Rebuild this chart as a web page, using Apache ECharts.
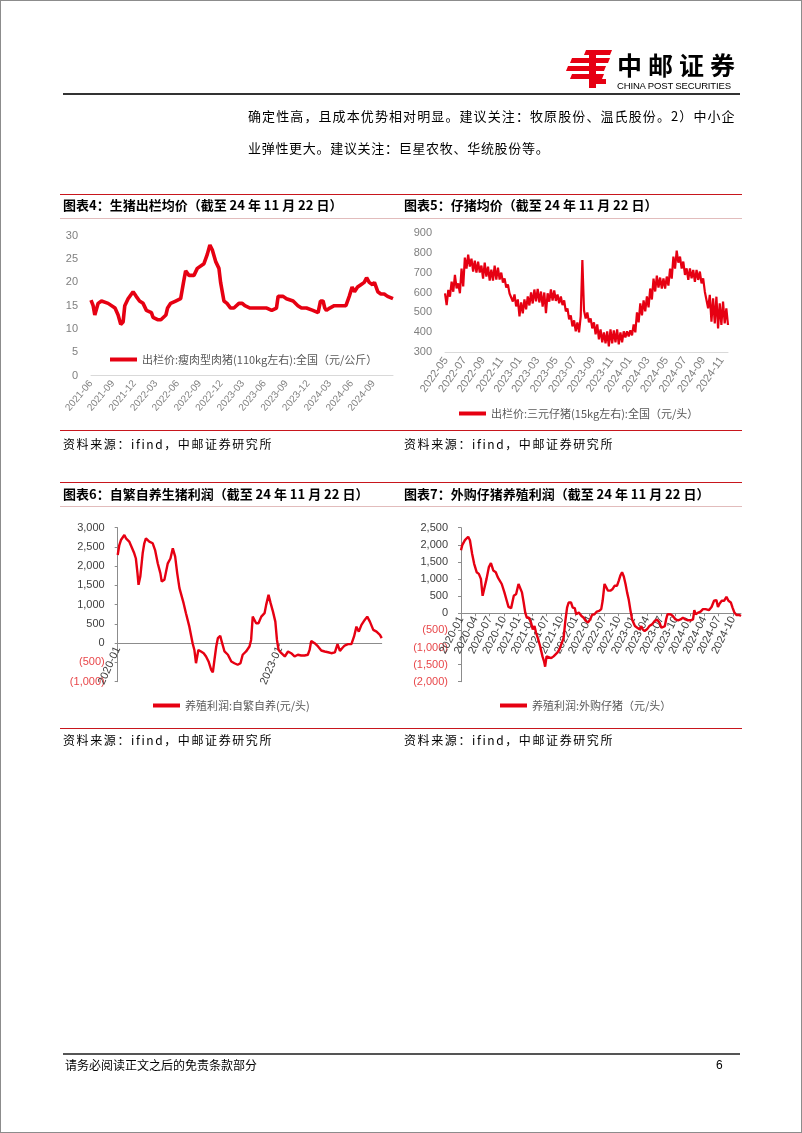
<!DOCTYPE html>
<html><head><meta charset="utf-8">
<script src="https://cdn.jsdelivr.net/npm/echarts@6/dist/echarts.min.js"></script>
<style>
html,body{margin:0;padding:0;background:#fff;}
#page{position:relative;width:802px;height:1133px;overflow:hidden;font-family:"Noto Sans CJK SC",sans-serif;background:#fff;}
#chart{position:absolute;left:0;top:0;width:802px;height:1133px;}
.frame{position:absolute;left:0;top:0;width:802px;height:1133px;box-sizing:border-box;border:1px solid #8c8c8c;pointer-events:none;}
.t{position:absolute;white-space:nowrap;color:#000;line-height:1;}
.ln{position:absolute;height:0;}
.ttl{font-weight:bold;font-size:13px;}
.src{font-size:12px;letter-spacing:1.6px;color:#000;}
</style></head><body>
<div id="page">
<div id="chart"></div>

<svg style="position:absolute;left:566px;top:49px" width="48" height="40" viewBox="0 0 48 40">
  <g fill="#e60012">
    <polygon points="20,1 46,1 44,6 18,6"/>
    <polygon points="6,9 44,9 42,14 4,14"/>
    <polygon points="2,17 40,17 38,22 0,22"/>
    <polygon points="6,25 38,25 36,30 4,30"/>
    <polygon points="23,1 30,1 30,39 23,39"/>
    <polygon points="30,30 40,30 40,35 30,35"/>
  </g>
</svg>
<div class="t" style="left:617px;top:52px;font-size:25px;font-weight:bold;letter-spacing:6px;">中邮证券</div>
<div class="t" style="left:617px;top:81px;font-size:9.5px;font-family:'Liberation Sans',sans-serif;letter-spacing:-0.15px;">CHINA POST SECURITIES</div>
<div class="ln" style="left:63px;top:93px;width:677px;border-top:2px solid #333;"></div>

<div class="t" style="left:248px;top:109px;font-size:13px;letter-spacing:1.1px;">确定性高，且成本优势相对明显。建议关注：牧原股份、温氏股份。2）中小企</div>
<div class="t" style="left:248px;top:141px;font-size:13px;letter-spacing:0.7px;">业弹性更大。建议关注：巨星农牧、华统股份等。</div>

<div class="ln" style="left:60px;top:194px;width:682px;border-top:1.5px solid #c8161d;"></div>
<div class="t ttl" style="left:63px;top:198px;">图表4：生猪出栏均价（截至 24 年 11 月 22 日）</div>
<div class="t ttl" style="left:404px;top:198px;">图表5：仔猪均价（截至 24 年 11 月 22 日）</div>
<div class="ln" style="left:60px;top:217.5px;width:682px;border-top:1px solid #e2bcbc;"></div>
<div class="ln" style="left:60px;top:429.5px;width:682px;border-top:1.5px solid #c8161d;"></div>
<div class="t src" style="left:63px;top:438px;">资料来源：ifind，中邮证券研究所</div>
<div class="t src" style="left:404px;top:438px;">资料来源：ifind，中邮证券研究所</div>

<div class="ln" style="left:60px;top:482px;width:682px;border-top:1.5px solid #c8161d;"></div>
<div class="t ttl" style="left:63px;top:486.5px;">图表6：自繁自养生猪利润（截至 24 年 11 月 22 日）</div>
<div class="t ttl" style="left:404px;top:486.5px;">图表7：外购仔猪养殖利润（截至 24 年 11 月 22 日）</div>
<div class="ln" style="left:60px;top:506px;width:682px;border-top:1px solid #e2bcbc;"></div>
<div class="ln" style="left:60px;top:727.5px;width:682px;border-top:1.5px solid #c8161d;"></div>
<div class="t src" style="left:63px;top:734px;">资料来源：ifind，中邮证券研究所</div>
<div class="t src" style="left:404px;top:734px;">资料来源：ifind，中邮证券研究所</div>

<div class="ln" style="left:63px;top:1053px;width:677px;border-top:2px solid #555;"></div>
<div class="t" style="left:65px;top:1059px;font-size:12px;">请务必阅读正文之后的免责条款部分</div>
<div class="t" style="left:716px;top:1059px;font-size:12px;font-family:'Liberation Sans',sans-serif;">6</div>

<div class="frame"></div>
</div>
<script>
// ---------- Data ----------
const c4Name = '出栏价:瘦肉型肉猪(110kg左右):全国（元/公斤）';
const c4Ticks = ['2021-06','2021-09','2021-12','2022-03','2022-06','2022-09','2022-12','2023-03','2023-06','2023-09','2023-12','2024-03','2024-06','2024-09'];
const c4Dates = ['2021-06-01','2021-06-10','2021-06-17','2021-07-01','2021-07-15','2021-08-12','2021-09-10','2021-09-23','2021-10-04','2021-10-14',
 '2021-10-21','2021-11-04','2021-11-25','2021-12-08','2021-12-22','2022-01-06','2022-01-20','2022-02-10','2022-02-17','2022-03-08',
 '2022-03-22','2022-04-12','2022-04-19','2022-05-02','2022-05-23','2022-06-13','2022-06-25','2022-07-04','2022-07-18','2022-08-08',
 '2022-08-22','2022-09-19','2022-10-03','2022-10-14','2022-10-24','2022-11-07','2022-11-21','2022-11-28','2022-12-12','2022-12-25',
 '2023-01-09','2023-01-23','2023-02-13','2023-02-27','2023-03-10','2023-04-01','2023-04-15','2023-05-12','2023-06-10','2023-07-01',
 '2023-07-21','2023-07-28','2023-08-18','2023-09-01','2023-09-29','2023-10-19','2023-11-03','2023-11-24','2023-12-21','2024-01-12',
 '2024-01-22','2024-02-02','2024-02-09','2024-02-16','2024-03-01','2024-03-20','2024-04-10','2024-05-08','2024-05-22','2024-06-03',
 '2024-06-13','2024-06-26','2024-07-10','2024-07-24','2024-08-03','2024-08-14','2024-08-28','2024-09-05','2024-09-19','2024-10-02',
 '2024-10-16','2024-10-30','2024-11-22'];
const c4Vals = [16.2,15,13,15.5,16,15.5,14.5,13,11,11.5,
 15,16.5,18,17,16,15.5,14,13.5,12.5,12,
 12,13,14.5,15.5,16,16.5,20,22.5,21.5,21.5,
 23,24,26,28,27,24.5,23,20,16,15.5,
 14.5,14.5,15.5,15.5,15,14.5,14.5,14.5,14.5,14,
 14.5,17,17,16.5,16,15,14.5,14.5,14,13.5,
 16,16,14.5,14,14.5,15,15,15,17,19,
 18,19,19.5,20,21,20,19.5,20,18,17.5,
 17.5,17,16.5];

const c5Name = '出栏价:三元仔猪(15kg左右):全国（元/头）';
const c5Ticks = ['2022-05','2022-07','2022-09','2022-11','2023-01','2023-03','2023-05','2023-07','2023-09','2023-11','2024-01','2024-03','2024-05','2024-07','2024-09','2024-11'];
const c5Start = '2022-04-28', c5End = '2024-11-22';
// daily quotes sampled evenly between start and end, alternating upper / lower envelope of the noisy daily line
const c5Vals = [596,537,613,579,654,604,688,621,646,596,720,630,775,720,790,730,770,705,760,700,
 755,700,735,670,750,680,730,660,715,660,735,665,725,665,700,650,670,625,640,595,
 600,555,590,530,565,480,550,495,565,515,580,535,600,545,615,555,618,550,605,529,
 600,496,596,554,615,560,610,558,590,546,580,537,560,505,520,465,485,430,460,405,
 450,400,480,763,510,470,500,450,470,420,450,390,440,365,415,350,400,345,405,330,
 415,345,410,350,415,340,400,350,405,375,405,380,410,385,440,400,500,450,545,485,
 560,505,580,525,620,565,670,605,685,625,675,620,670,620,680,635,720,670,780,720,
 810,750,780,720,755,688,721,663,721,671,713,654,713,663,705,646,671,604,604,521,
 588,454,571,445,579,420,546,437,554,445,521,437];

const c6Name = '养殖利润:自繁自养(元/头)';
const c6Ticks = ['2020-01','2023-01'];
const c6Dates = ['2020-01-01','2020-01-12','2020-01-23','2020-02-15','2020-02-26','2020-03-19','2020-04-04','2020-04-22','2020-05-03','2020-05-14',
 '2020-05-21','2020-06-02','2020-06-18','2020-06-29','2020-07-10','2020-08-02','2020-08-25','2020-09-10','2020-09-28','2020-10-16',
 '2020-10-25','2020-11-12','2020-11-24','2020-12-05','2020-12-23','2021-01-08','2021-01-24','2021-02-07','2021-02-22','2021-03-04',
 '2021-03-22','2021-04-07','2021-04-18','2021-04-30','2021-05-11','2021-05-22','2021-06-03','2021-06-14','2021-06-21','2021-06-30',
 '2021-07-18','2021-08-05','2021-08-21','2021-09-07','2021-09-25','2021-10-06','2021-10-17','2021-10-29','2021-11-09','2021-11-25',
 '2021-12-08','2021-12-24','2022-01-16','2022-02-08','2022-03-01','2022-03-23','2022-04-11','2022-04-26','2022-05-19','2022-06-11',
 '2022-06-22','2022-07-03','2022-07-15','2022-07-26','2022-08-11','2022-08-30','2022-09-21','2022-10-02','2022-10-18','2022-11-01',
 '2022-11-17','2022-12-03','2022-12-14','2022-12-25','2023-01-13','2023-02-05','2023-02-27','2023-03-20','2023-04-12','2023-05-04',
 '2023-05-27','2023-06-19','2023-07-11','2023-07-23','2023-08-03','2023-08-26','2023-09-18','2023-10-10','2023-11-02','2023-11-25',
 '2023-12-17','2024-01-10','2024-01-28','2024-02-13','2024-02-28','2024-03-16','2024-04-08','2024-05-01','2024-05-19','2024-06-04',
 '2024-06-20','2024-07-08','2024-07-30','2024-08-16','2024-09-03','2024-09-26','2024-10-18','2024-11-10','2024-11-22'];
const c6Vals = [2290,2550,2680,2810,2725,2640,2500,2335,2200,1815,
 1515,1730,2335,2595,2725,2640,2595,2420,2075,1815,
 1600,1645,1645,2075,2200,2465,2250,1815,1430,1385,
 1040,780,735,430,215,0,-175,-520,-560,-175,
 -215,-260,-345,-475,-690,-760,-430,-85,130,190,
 0,-215,-300,-475,-520,-560,-520,-300,-215,-85,
 85,690,650,520,520,690,780,995,1255,1040,
 820,560,85,-175,-260,-345,-215,-260,-345,-300,
 -320,-320,-300,-175,60,0,-85,-190,-215,-235,
 -260,-240,-25,-200,-130,-60,-25,-25,175,430,
 300,475,605,690,560,345,300,215,130];

const c7Name = '养殖利润:外购仔猪（元/头）';
const c7Ticks = ['2020-01','2020-04','2020-07','2020-10','2021-01','2021-04','2021-07','2021-10','2022-01','2022-04','2022-07','2022-10','2023-01','2023-04','2023-07','2023-10','2024-01','2024-04','2024-07','2024-10'];
const c7Dates = ['2020-01-01','2020-01-09','2020-01-26','2020-02-16','2020-02-27','2020-03-12','2020-03-25','2020-04-10','2020-04-24','2020-05-07',
 '2020-05-18','2020-05-28','2020-06-12','2020-06-27','2020-07-10','2020-07-25','2020-08-10','2020-08-23','2020-09-02','2020-09-17',
 '2020-10-04','2020-10-19','2020-10-30','2020-11-16','2020-11-25','2020-12-03','2020-12-18','2021-01-02','2021-01-13','2021-01-24',
 '2021-02-04','2021-02-14','2021-02-24','2021-03-10','2021-03-23','2021-04-03','2021-04-14','2021-04-24','2021-05-05','2021-05-20',
 '2021-06-04','2021-06-14','2021-06-21','2021-06-30','2021-07-12','2021-07-30','2021-08-14','2021-09-05','2021-09-20','2021-10-02',
 '2021-10-17','2021-10-28','2021-11-08','2021-11-18','2021-12-03','2021-12-14','2021-12-27','2022-01-05','2022-01-22','2022-02-08',
 '2022-02-22','2022-03-08','2022-03-21','2022-04-05','2022-04-16','2022-05-02','2022-05-17','2022-06-01','2022-06-14','2022-06-23',
 '2022-07-05','2022-07-16','2022-07-27','2022-08-11','2022-08-26','2022-09-08','2022-09-23','2022-10-04','2022-10-14','2022-10-25',
 '2022-11-05','2022-11-16','2022-11-26','2022-12-07','2022-12-18','2022-12-28','2023-01-15','2023-01-30','2023-02-13','2023-02-25',
 '2023-03-05','2023-03-18','2023-04-02','2023-04-17','2023-05-04','2023-05-21','2023-06-05','2023-06-21','2023-07-03','2023-07-12',
 '2023-07-25','2023-08-02','2023-08-11','2023-08-30','2023-09-14','2023-10-01','2023-10-18','2023-11-02','2023-11-17','2023-12-04',
 '2023-12-19','2024-01-06','2024-01-21','2024-01-29','2024-02-07','2024-02-24','2024-03-09','2024-03-24','2024-04-10','2024-05-01',
 '2024-05-18','2024-06-03','2024-06-18','2024-06-28','2024-07-09','2024-07-22','2024-08-06','2024-08-21','2024-09-03','2024-09-18',
 '2024-09-29','2024-10-11','2024-10-24','2024-11-11','2024-11-22'];
const c7Vals = [1840,1990,2135,2235,2135,1740,1445,1200,1150,1005,
 510,710,1005,1350,1465,1250,1200,1050,1005,855,
 610,365,185,150,140,510,560,855,805,610,
 315,20,-130,-130,-275,-470,-375,-570,-720,-965,
 -1260,-1405,-1560,-1260,-1260,-1310,-1260,-1160,-1060,-1015,
 -720,-225,165,315,315,165,150,-30,20,-80,
 -130,-225,-275,-180,-50,-30,50,70,120,365,
 855,760,660,660,710,805,805,955,1100,1200,
 1075,855,610,385,70,-180,-375,-425,-470,-375,
 -470,-520,-470,-375,-325,-225,-180,-275,-425,-470,
 -375,-180,-30,-30,-80,-180,-205,-180,-130,-180,
 -205,-205,-180,90,-30,20,50,120,120,90,
 185,365,385,185,285,365,365,480,365,315,
 165,20,-50,-50,-80];

// ---------- Helpers ----------
const RED = '#e60012';
const NUM_FONT = "'Liberation Sans','Noto Sans CJK SC',sans-serif";
const CJK_FONT = "'Noto Sans CJK SC',sans-serif";
function ts(s){const p=s.split('-');return new Date(+p[0],+p[1]-1,+(p[2]||1)).getTime();}
function ym(v){const d=new Date(Number(v));return d.getFullYear()+'-'+String(d.getMonth()+1).padStart(2,'0');}
function thou(n){return String(n).replace(/\B(?=(\d{3})+(?!\d))/g, ',');}
function acct(v){v=Number(v);return v<0?'('+thou(-v)+')':thou(v);}
function zip(d,v){return d.map((x,i)=>[ts(x),v[i]]);}

const s5t0 = ts(c5Start), s5t1 = ts(c5End);
const c5Data = c5Vals.map((v,i)=>[s5t0 + i*(s5t1-s5t0)/(c5Vals.length-1), v]);

// grid geometry
const G = [
  {left:91, top:235.7, width:302, height:140},
  {left:445, top:232.7, width:283, height:119.6},
  {left:117.7, top:527.7, width:264, height:154},
  {left:461, top:527.7, width:280, height:154}
];
const Y = [[0,30,5],[300,900,100],[-1000,3000,500],[-2000,2500,500]];
// distance (px) from the grid bottom up to the value 0 line, so the date axis sits on zero
function zeroOffset(i){const [mn,mx]=Y[i];return mn<0 ? -G[i].height*(-mn)/(mx-mn) : 0;}

// date axis drawn as a numeric (timestamp) axis with explicit label positions
function dateAxis(grid, min, max, ticks, rot, fs, color, lineColor, showTick, margin){
  const tv = ticks.map(ts);
  return {
    type:'value', gridIndex:grid, min:ts(min), max:ts(max), scale:true,
    position:'bottom', offset:zeroOffset(grid),
    axisLine:{show:true, onZero:false, lineStyle:{color:lineColor, width:1}},
    axisTick:{show:showTick, customValues:tv, length:3, lineStyle:{color:lineColor}},
    splitLine:{show:false}, minorTick:{show:false},
    axisLabel:{customValues:tv, formatter:ym, rotate:rot, fontSize:fs, color:color,
      fontFamily:NUM_FONT, margin:margin, hideOverlap:false}
  };
}
function valAxis(i, showLine, label){
  const lc = '#8c8c8c';
  return {type:'value', gridIndex:i, min:Y[i][0], max:Y[i][1], interval:Y[i][2],
    axisLine:{show:showLine, lineStyle:{color:lc}}, axisTick:{show:showLine, length:3, lineStyle:{color:lc}},
    splitLine:{show:false}, axisLabel:Object.assign({fontSize:11, margin:13, fontFamily:NUM_FONT}, label)};
}

const chart = echarts.init(document.getElementById('chart'), null, {renderer:'canvas'});
const legendBase = {icon:'rect', itemWidth:27, itemHeight:4, padding:0, itemGap:10,
  textStyle:{fontSize:11, color:'#595959', fontFamily:CJK_FONT}, selectedMode:false};
const negColor = (v)=>Number(v)<0?'#e8474a':'#404040';

chart.setOption({
  animation:false,
  grid:G,
  xAxis:[
    dateAxis(0,'2021-06-01','2024-11-22',c4Ticks,50,10,'#7f7f7f','#d9d9d9',false,6),
    dateAxis(1,'2022-04-28','2024-11-22',c5Ticks,55,11,'#7f7f7f','#d9d9d9',false,6),
    dateAxis(2,'2020-01-01','2024-11-22',c6Ticks,66,11,'#404040','#8c8c8c',true,4),
    dateAxis(3,'2020-01-01','2024-11-22',c7Ticks,63,11,'#404040','#8c8c8c',true,4)
  ],
  yAxis:[
    valAxis(0,false,{color:'#7f7f7f'}),
    valAxis(1,false,{color:'#7f7f7f'}),
    valAxis(2,true,{formatter:acct, color:negColor}),
    valAxis(3,true,{formatter:acct, color:negColor})
  ],
  legend:[
    Object.assign({}, legendBase, {data:[c4Name], left:110, top:354}),
    Object.assign({}, legendBase, {data:[c5Name], left:459, top:408}),
    Object.assign({}, legendBase, {data:[c6Name], left:153, top:700}),
    Object.assign({}, legendBase, {data:[c7Name], left:500, top:700})
  ],
  series:[
    {name:c4Name, type:'line', xAxisIndex:0, yAxisIndex:0, data:zip(c4Dates,c4Vals), showSymbol:false, symbol:'none',
     lineStyle:{color:RED, width:3.6}, itemStyle:{color:RED}},
    {name:c5Name, type:'line', xAxisIndex:1, yAxisIndex:1, data:c5Data, showSymbol:false, symbol:'none',
     lineStyle:{color:RED, width:2.2}, itemStyle:{color:RED}},
    {name:c6Name, type:'line', xAxisIndex:2, yAxisIndex:2, data:zip(c6Dates,c6Vals), showSymbol:false, symbol:'none',
     lineStyle:{color:RED, width:2.4}, itemStyle:{color:RED}},
    {name:c7Name, type:'line', xAxisIndex:3, yAxisIndex:3, data:zip(c7Dates,c7Vals), showSymbol:false, symbol:'none',
     lineStyle:{color:RED, width:2.4}, itemStyle:{color:RED}}
  ]
});
</script>
</body></html>
